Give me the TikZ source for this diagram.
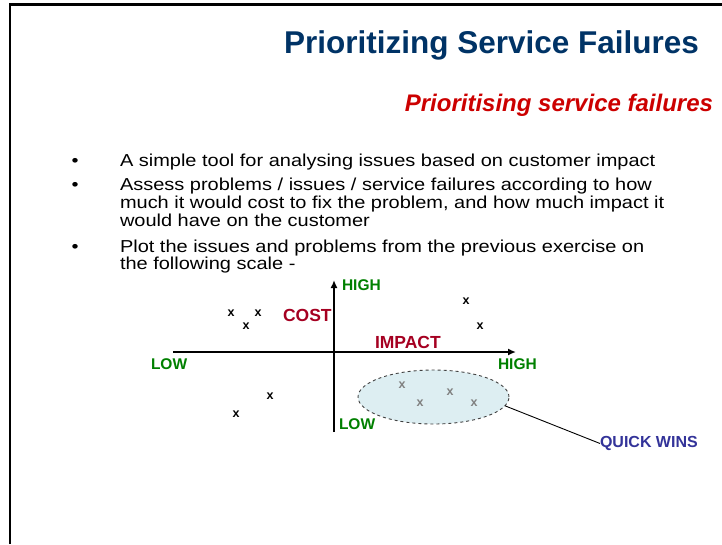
\documentclass[tikz,border=0pt]{standalone}
\usepackage{fontspec}
\setmainfont{Liberation Sans}
\newfontfamily\bodyfont[FakeStretch=1.155]{Liberation Sans}
\usetikzlibrary{arrows.meta,shapes.geometric}
\definecolor{titleblue}{HTML}{003366}
\definecolor{subred}{HTML}{CC0000}
\definecolor{lblgreen}{HTML}{008000}
\definecolor{lblred}{HTML}{A50021}
\definecolor{qwblue}{HTML}{333399}
\definecolor{ellfill}{HTML}{DDEEF2}
\begin{document}
\begin{tikzpicture}[x=1pt,y=-1pt,
  every node/.style={inner sep=0pt, outer sep=0pt},
  bodyline/.style={anchor=base west, font=\bodyfont\fontsize{17.3}{17.3}\selectfont},
  bulletdot/.style={anchor=base, font=\bodyfont\fontsize{17.3}{17.3}\selectfont},
  greenlbl/.style={anchor=base west, text=lblgreen, font=\fontsize{15.5}{15.5}\selectfont\bfseries},
  redlbl/.style={anchor=base west, text=lblred, font=\fontsize{17.5}{17.5}\selectfont\bfseries},
  cross/.style={font=\fontsize{12.5}{12.5}\selectfont\bfseries},
  graycross/.style={font=\fontsize{12.5}{12.5}\selectfont\bfseries, text=gray},
  axis/.style={line width=2.2pt, -{Latex[length=8pt,width=7pt]}}
]
\useasboundingbox (0,0) rectangle (722,544);
% frame
\draw[line width=2.5pt] (10,544) -- (10,4.5) -- (722,4.5);
% titles
\node[anchor=base east, text=titleblue, font=\fontsize{31.5}{31.5}\selectfont\bfseries] (title) at (699,53) {Prioritizing Service Failures};
\node[anchor=base east, text=subred, font=\fontsize{24}{24}\selectfont\bfseries\itshape] (subtitle) at (713,111.5) {Prioritising service failures};
% bullets
\node[bulletdot] (b1) at (75,166) {•};
\node[bodyline] (l1) at (120,166) {A simple tool for analysing issues based on customer impact};
\node[bulletdot] (b2) at (75,190.5) {•};
\node[bodyline] (l2) at (120,190.5) {Assess problems / issues / service failures according to how};
\node[bodyline] (l3) at (120,208.5) {much it would cost to fix the problem, and how much impact it};
\node[bodyline] (l4) at (120,226.5) {would have on the customer};
\node[bulletdot] (b3) at (75,252.5) {•};
\node[bodyline] (l5) at (120,252.5) {Plot the issues and problems from the previous exercise on};
\node[bodyline] (l6) at (120,269) {the following scale -};
% ellipse
\node[draw=black!75, dashed, line width=0.9pt, fill=ellfill, ellipse, minimum width=151pt, minimum height=54pt] (qw) at (433.5,397) {};
% axes
\coordinate (vb) at (334,432);
\coordinate (vt) at (334,280);
\coordinate (hl) at (173,352);
\coordinate (hr) at (516,352);
\draw[axis] (vb) -- (vt);
\draw[axis] (hl) -- (hr);
% labels
\node[greenlbl] (hightop) at (342,290.5) {HIGH};
\node[greenlbl] (lowleft) at (151,369.5) {LOW};
\node[greenlbl] (highright) at (498,369.5) {HIGH};
\node[greenlbl] (lowbot) at (339,429.5) {LOW};
\node[redlbl] (cost) at (283,321) {COST};
\node[redlbl] (impact) at (375,348) {IMPACT};
% crosses
\node[cross] (c1) at (231,313) {x};
\node[cross] (c2) at (258,313) {x};
\node[cross] (c3) at (246,326) {x};
\node[cross] (c4) at (466,301) {x};
\node[cross] (c5) at (480,326) {x};
\node[cross] (c6) at (270,396) {x};
\node[cross] (c7) at (236,414) {x};
\node[graycross] (g1) at (402,385) {x};
\node[graycross] (g2) at (450,392) {x};
\node[graycross] (g3) at (420,403) {x};
\node[graycross] (g4) at (474,403) {x};
% quick wins
\node[anchor=base west, text=qwblue, font=\fontsize{16}{16}\selectfont\bfseries] (qwlbl) at (600,447.5) {QUICK WINS};
\draw[line width=0.9pt] (qw.-7) -- (qwlbl.west);
\end{tikzpicture}
\end{document}
